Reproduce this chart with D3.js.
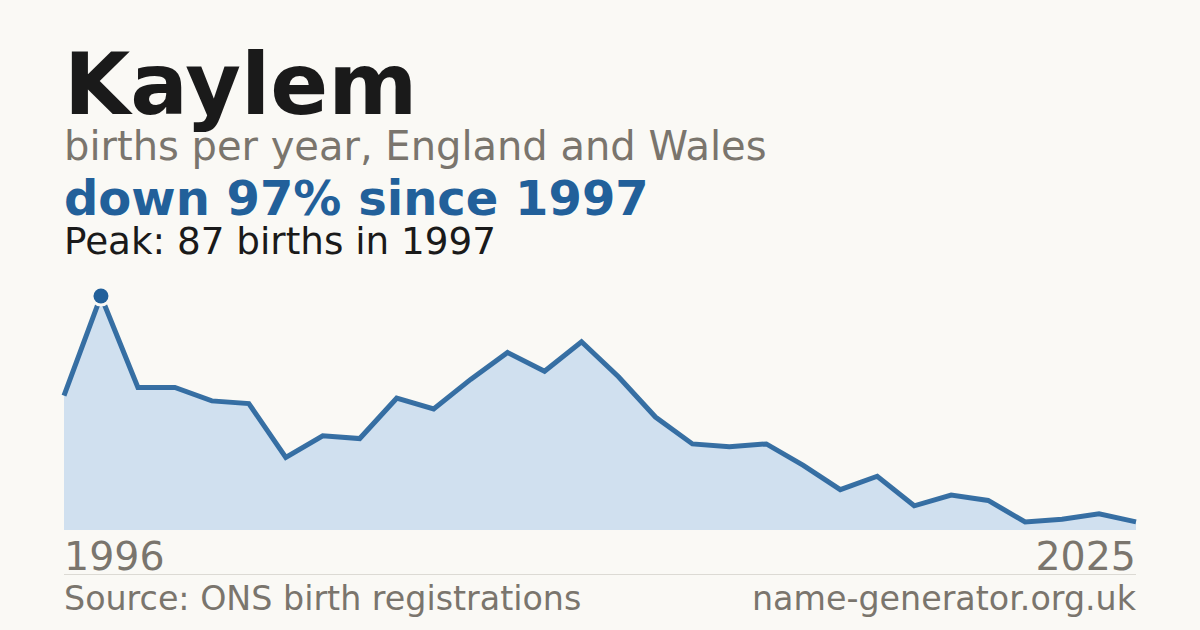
<!DOCTYPE html>
<html>
<head>
<meta charset="utf-8">
<script src="https://cdn.jsdelivr.net/npm/d3@7"></script>
<style>
  html, body { margin: 0; padding: 0; background: #faf9f5; }
  svg { display: block; font-family: "DejaVu Sans", sans-serif; }
</style>
</head>
<body>
<div id="chart"></div>
<script>
// data
var years = d3.range(1996, 2026);
var births = [50, 87, 53, 53, 48, 47, 27, 35, 34, 49,
              45, 56, 66, 59, 70, 57, 42, 32, 31, 32,
              24, 15, 20, 9, 13, 11, 3, 4, 6, 3];
var title = "Kaylem";
var subtitle = "births per year, England and Wales";
var headline = "down 97% since 1997";
var peakText = "Peak: 87 births in 1997";
var sourceText = "Source: ONS birth registrations";
var siteText = "name-generator.org.uk";

var width = 1200, height = 630;
var plotLeft = 64, plotRight = 1136, plotTop = 296, plotBottom = 530;
var blue = "#22609a", grey = "#7a756d";

var data = years.map((yr, i) => ({ year: yr, value: births[i] }));

var svg = d3.select("#chart").append("svg")
  .attr("width", width)
  .attr("height", height);

svg.append("rect")
  .attr("width", width)
  .attr("height", height)
  .attr("fill", "#faf9f5");

var x = d3.scaleLinear()
  .domain([years[0], years[years.length - 1]])
  .range([plotLeft, plotRight]);

var y = d3.scaleLinear()
  .domain([0, d3.max(births)])
  .range([plotBottom, plotTop]);

// headings
svg.append("text").attr("x", plotLeft).attr("y", 114)
  .attr("font-size", 85.5).attr("font-weight", "bold").attr("fill", "#1a1a1a")
  .text(title);
svg.append("text").attr("x", plotLeft).attr("y", 160)
  .attr("font-size", 40).attr("fill", grey)
  .text(subtitle);
svg.append("text").attr("x", plotLeft).attr("y", 215)
  .attr("font-size", 48).attr("font-weight", "bold").attr("fill", blue)
  .text(headline);
svg.append("text").attr("x", plotLeft).attr("y", 254)
  .attr("font-size", 37.3).attr("fill", "#1a1a1a")
  .text(peakText);

// area + line
var area = d3.area()
  .x(d => x(d.year))
  .y0(y(0))
  .y1(d => y(d.value));

var line = d3.line()
  .x(d => x(d.year))
  .y(d => y(d.value));

svg.append("path")
  .datum(data)
  .attr("d", area)
  .attr("fill", "#d0e0ef");

svg.append("path")
  .datum(data)
  .attr("d", line)
  .attr("fill", "none")
  .attr("stroke", blue)
  .attr("stroke-opacity", 0.9)
  .attr("stroke-width", 5);

// peak marker
var peak = data[d3.maxIndex(data, d => d.value)];
svg.append("circle")
  .attr("cx", x(peak.year)).attr("cy", y(peak.value))
  .attr("r", 10.5).attr("fill", "#faf9f5");
svg.append("circle")
  .attr("cx", x(peak.year)).attr("cy", y(peak.value))
  .attr("r", 7.5).attr("fill", blue);

// end year labels
svg.append("text").attr("x", plotLeft).attr("y", 570)
  .attr("font-size", 39.5).attr("fill", grey)
  .text(years[0]);
svg.append("text").attr("x", plotRight).attr("y", 570)
  .attr("font-size", 39.5).attr("fill", grey).attr("text-anchor", "end")
  .text(years[years.length - 1]);

// divider + footer
svg.append("line")
  .attr("x1", plotLeft).attr("x2", plotRight)
  .attr("y1", 574.5).attr("y2", 574.5)
  .attr("stroke", "#dcdad4").attr("stroke-width", 1);

svg.append("text").attr("x", plotLeft).attr("y", 610)
  .attr("font-size", 33.3).attr("fill", grey)
  .text(sourceText);
svg.append("text").attr("x", plotRight).attr("y", 610)
  .attr("font-size", 33.3).attr("fill", grey).attr("text-anchor", "end")
  .text(siteText);
</script>
</body>
</html>
